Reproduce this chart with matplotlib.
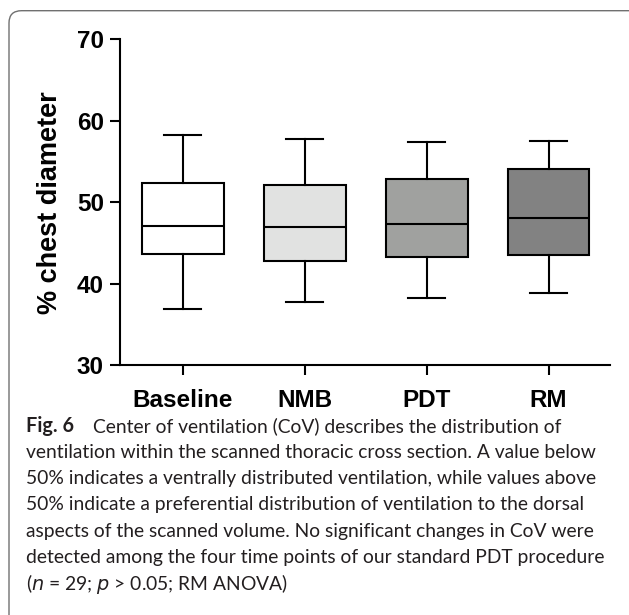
import matplotlib

matplotlib.use("Agg")
import matplotlib.pyplot as plt
from matplotlib.patches import FancyBboxPatch

# ── Data ────────────────────────────────────────────────────────────────────
groups = ["Baseline", "NMB", "PDT", "RM"]
whisker_low = [36.9, 37.7, 38.2, 38.8]
q1 = [43.6, 42.8, 43.3, 43.5]
median = [47.1, 47.0, 47.3, 48.1]
q3 = [52.4, 52.1, 52.8, 54.1]
whisker_high = [58.3, 57.7, 57.4, 57.5]
box_colors = ["#ffffff", "#e1e2e1", "#a0a19f", "#828282"]

caption_lines = [
    "Center of ventilation (CoV) describes the distribution of",
    "ventilation within the scanned thoracic cross section. A value below",
    "50% indicates a ventrally distributed ventilation, while values above",
    "50% indicate a preferential distribution of ventilation to the dorsal",
    "aspects of the scanned volume. No significant changes in CoV were",
    "detected among the four time points of our standard PDT procedure",
]

W, H = 629, 615
fig = plt.figure(figsize=(W / 100, H / 100), dpi=100)
fig.patch.set_facecolor("white")

# rounded frame around figure + caption
frame = FancyBboxPatch((9 / W, -0.05), 1.2, 1 - 10.7 / H + 0.05,
                       boxstyle="round,pad=0,rounding_size=0.02",
                       transform=fig.transFigure, fill=False,
                       edgecolor="#707070", linewidth=1.0)
fig.add_artist(frame)

ax = fig.add_axes([120.5 / W, 1 - 365 / H, (609.6 - 120.5) / W, (365 - 39.3) / H])

stats = []
for i, g in enumerate(groups):
    stats.append(dict(label=g, med=median[i], q1=q1[i], q3=q3[i],
                      whislo=whisker_low[i], whishi=whisker_high[i], fliers=[]))

bp = ax.bxp(stats, positions=range(1, len(groups) + 1), widths=0.67,
            patch_artist=True, showfliers=False,
            boxprops=dict(linewidth=1.5, edgecolor="black"),
            medianprops=dict(color="black", linewidth=1.5),
            whiskerprops=dict(color="black", linewidth=1.5),
            capprops=dict(color="black", linewidth=1.5),
            capwidths=0.3)
for patch, c in zip(bp["boxes"], box_colors):
    patch.set_facecolor(c)

ax.set_xlim(0.49, 4.5)
ax.set_ylim(30, 70)
ax.set_yticks([30, 40, 50, 60, 70])
ax.spines["top"].set_visible(False)
ax.spines["right"].set_visible(False)
for s in ("left", "bottom"):
    ax.spines[s].set_linewidth(1.5)
ax.tick_params(axis="both", width=1.5, length=7, direction="out", color="black")
ax.tick_params(axis="y", pad=5)
ax.tick_params(axis="x", pad=10)

for lab in ax.get_yticklabels():
    lab.set_fontfamily("Liberation Sans")
    lab.set_fontweight("bold")
    lab.set_fontsize(17.5)
ax.set_xticklabels(groups, fontfamily="Liberation Sans", fontweight="bold", fontsize=17.5)
ax.set_ylabel("% chest diameter", fontfamily="Liberation Sans", fontweight="bold",
              fontsize=19.5, labelpad=10)

# ── Caption ─────────────────────────────────────────────────────────────────
cap_font = "Lato"
cap_size = 13.9
cap_color = "#231f20"
x0 = 26 / W
y0 = 1 - 426 / H
dy = 26.3 / H
fig.text(x0, y0, "Fig. 6", fontfamily=cap_font, fontweight="bold", fontsize=cap_size + 0.4,
         color=cap_color, ha="left", va="center")
fig.text(x0 + 67 / W, y0, caption_lines[0], fontfamily=cap_font, fontsize=cap_size,
         color=cap_color, ha="left", va="center")
for k, line in enumerate(caption_lines[1:], start=1):
    fig.text(x0, y0 - k * dy, line, fontfamily=cap_font, fontsize=cap_size,
             color=cap_color, ha="left", va="center")
fig.text(x0, y0 - 6 * dy, r"($\it{n}$ = 29; $\it{p}$ > 0.05; RM ANOVA)",
         fontfamily=cap_font, fontsize=cap_size, color=cap_color, ha="left", va="center")

fig.savefig("out.png", dpi=100, facecolor="white")
